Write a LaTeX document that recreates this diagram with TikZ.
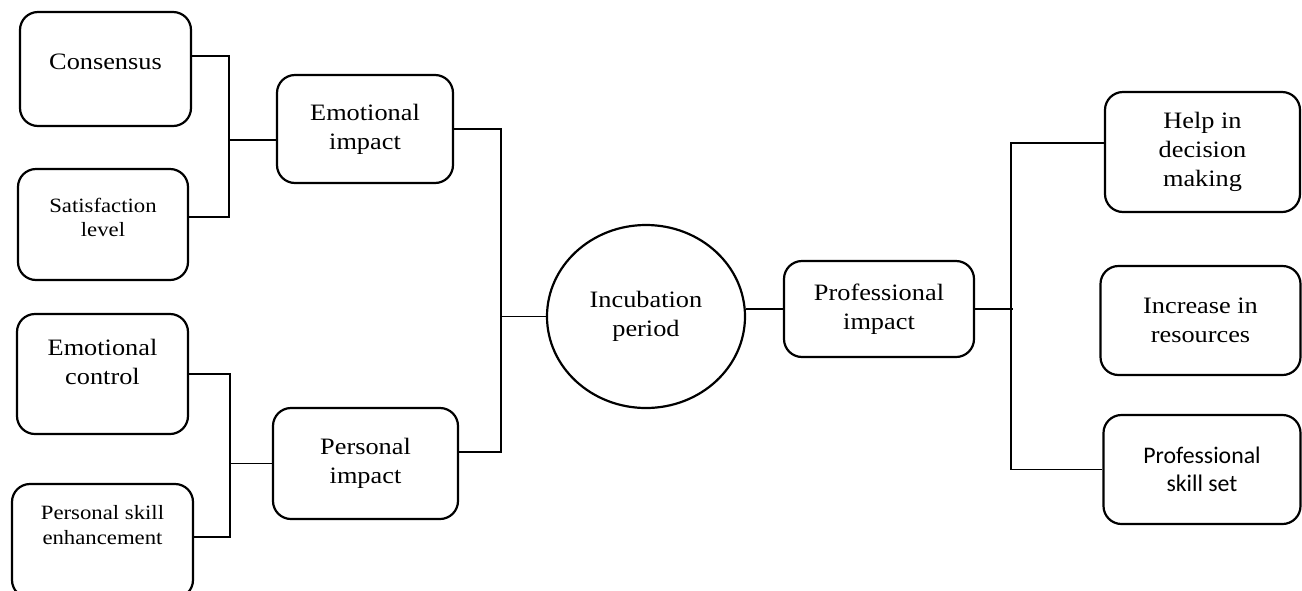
\documentclass[tikz,border=0pt]{standalone}
\usepackage{fontspec}
\setmainfont{Liberation Serif}[FakeStretch=1.12]
\newfontfamily\calib{Carlito}
\usetikzlibrary{shapes.geometric}
\begin{document}
\begin{tikzpicture}[x=1pt,y=-1pt,
  box/.style={draw, line width=2.2pt, rounded corners=18pt, align=center, inner sep=0pt,
    font=\fontsize{23.5}{29}\selectfont},
  small/.style={font=\fontsize{20.3}{24.5}\selectfont},
  sans/.style={font=\calib\fontsize{23.8}{28}\selectfont},
  oval/.style={draw, ellipse, line width=2.2pt, align=center, inner sep=0pt,
    font=\fontsize{23.5}{29}\selectfont},
  conn/.style={line width=1.3pt}]
\useasboundingbox (0,0) rectangle (1302,590);
\clip (0,0) rectangle (1302,590);

% left column
\node[box, minimum width=171pt, minimum height=114pt] (cons) at (105.5,69)
  {\raisebox{7pt}[\height][\depth]{Consensus}};
\node[box, small, minimum width=170pt, minimum height=111pt] (sat) at (103,224.5)
  {\raisebox{5pt}[\height][\depth]{\begin{tabular}{@{}c@{}}Satisfaction\\level\end{tabular}}};
\node[box, minimum width=171pt, minimum height=120pt] (ectl) at (102.5,374)
  {\raisebox{10pt}[\height][\depth]{\begin{tabular}{@{}c@{}}Emotional\\control\end{tabular}}};
\node[box, small, minimum width=181pt, minimum height=114pt] (pse) at (102.5,541)
  {\raisebox{14pt}[\height][\depth]{\begin{tabular}{@{}c@{}}Personal skill\\enhancement\end{tabular}}};

% middle column
\node[box, minimum width=176pt, minimum height=108pt] (emo) at (365,129) {Emotional\\impact};
\node[box, minimum width=185pt, minimum height=111pt] (pimp) at (365.5,463.5) {Personal\\impact};

% centre
\node[oval, minimum width=198pt, minimum height=183pt] (circ) at (646,316.5) {Incubation\\period};
\node[box, minimum width=190pt, minimum height=96pt] (prof) at (879,309) {Professional\\impact};

% right column
\node[box, minimum width=195pt, minimum height=120pt] (help) at (1202.5,152) {Help in\\decision\\making};
\node[box, minimum width=200pt, minimum height=109pt] (inc) at (1200.5,320.5) {Increase in\\resources};
\node[box, sans, minimum width=197pt, minimum height=109pt] (pss) at (1202,469.5) {Professional\\skill set};

% junctions
\coordinate (jE) at (229,140);
\coordinate (jP) at (230,463.5);
\coordinate (jC) at (501,316.5);
\coordinate (jR) at (1013,309);
\coordinate (jS) at (1011,469.5);

% connectors
\draw[conn] ([yshift=13pt]cons.east) -| (jE) -- ([yshift=-11pt]emo.west);
\draw[conn] ([yshift=7.5pt]sat.east) -| (jE);
\draw[conn] (ectl.east) -| (jP) -- (pimp.west);
\draw[conn] ([yshift=4pt]pse.east) -| (jP);
\draw[conn] (emo.east) -| (jC) -- (circ.west);
\draw[conn] ([yshift=11.5pt]pimp.east) -| (jC);
\draw[conn] (prof.west) -- (prof.west -| circ.east);
\draw[conn] (prof.east) -- (jR);
\draw[conn] ([yshift=9pt]help.west) -| (jS) -- (pss.west);
\end{tikzpicture}
\end{document}
